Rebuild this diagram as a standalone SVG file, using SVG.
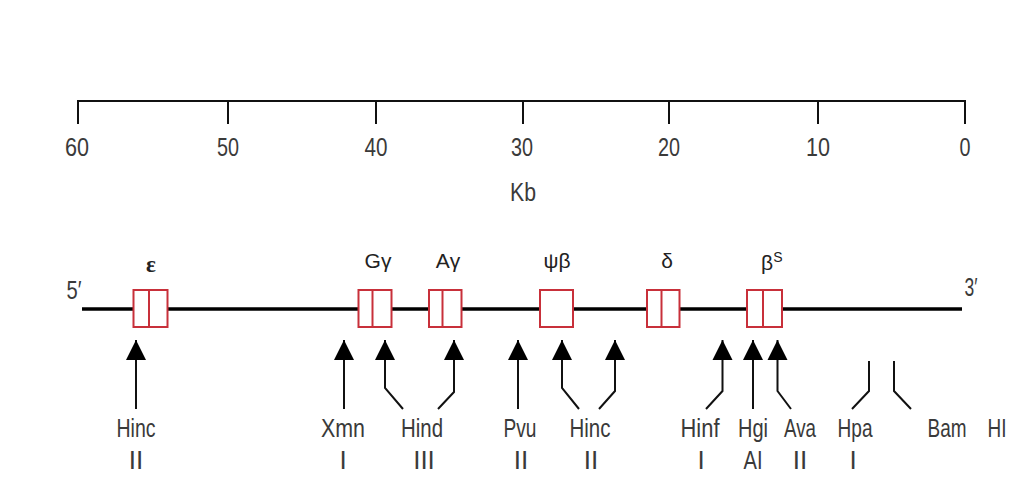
<svg xmlns="http://www.w3.org/2000/svg" width="1024" height="491" viewBox="0 0 1024 491">
<style>
.t{font-family:"Liberation Sans",Arial,sans-serif;font-size:26px;fill:#3a3a3a;text-anchor:middle}
.g{font-family:"Liberation Sans",Arial,sans-serif;font-size:21px;fill:#222;text-anchor:middle}
.ln{stroke:#111;stroke-width:2;fill:none}
.box{fill:#fff;stroke:#c8303a;stroke-width:2}
.div{stroke:#c8303a;stroke-width:2}
.c{stroke:#111;stroke-width:2;fill:none}
</style>
<defs>
<marker id="ah" markerUnits="userSpaceOnUse" markerWidth="22" markerHeight="22" viewBox="0 0 22 22" refX="11" refY="1" orient="0">
<path d="M11,1 L21,21 L1,21 Z" fill="#000"/>
</marker>
</defs>
<rect width="1024" height="491" fill="#fff"/>

<g id="scale">
<path class="ln" d="M78,101 H965 M78,100 V124 M228,100 V124 M376,100 V124 M523,100 V124 M669,100 V124 M818,100 V124 M965,100 V124"/>
<text class="t" x="77" y="156" textLength="24" lengthAdjust="spacingAndGlyphs">60</text>
<text class="t" x="228" y="156" textLength="22" lengthAdjust="spacingAndGlyphs">50</text>
<text class="t" x="376" y="156" textLength="23" lengthAdjust="spacingAndGlyphs">40</text>
<text class="t" x="522" y="156" textLength="22" lengthAdjust="spacingAndGlyphs">30</text>
<text class="t" x="669" y="156" textLength="22" lengthAdjust="spacingAndGlyphs">20</text>
<text class="t" x="818" y="156" textLength="24" lengthAdjust="spacingAndGlyphs">10</text>
<text class="t" x="965" y="156" textLength="11" lengthAdjust="spacingAndGlyphs">0</text>
<text class="t" x="523" y="201" textLength="26" lengthAdjust="spacingAndGlyphs">Kb</text>
</g>

<g id="chromosome">
<path d="M82,309 H962" stroke="#000" stroke-width="3.5"/>
<text class="t" x="74" y="299" textLength="15" lengthAdjust="spacingAndGlyphs">5′</text>
<text class="t" x="971" y="296" textLength="13" lengthAdjust="spacingAndGlyphs">3′</text>
</g>

<g id="epsilon">
<rect class="box" x="133.5" y="290" width="34" height="37"/>
<path class="div" d="M149,290 V327"/>
<text x="151" y="272" font-family="'Liberation Serif',serif" font-weight="bold" font-size="23" fill="#222" text-anchor="middle">ε</text>
</g>
<g id="Ggamma">
<rect class="box" x="358.5" y="290" width="33" height="37"/>
<path class="div" d="M372.5,290 V327"/>
<text class="g" x="378" y="268">Gγ</text>
</g>
<g id="Agamma">
<rect class="box" x="429" y="290" width="32.5" height="37"/>
<path class="div" d="M442.5,290 V327"/>
<text class="g" x="448" y="268">Aγ</text>
</g>
<g id="psibeta">
<rect class="box" x="540" y="290" width="33" height="37"/>
<text class="g" x="557" y="268">ψβ</text>
</g>
<g id="delta">
<rect class="box" x="647" y="290" width="32.5" height="37"/>
<path class="div" d="M661.5,290 V327"/>
<text class="g" x="667" y="268">δ</text>
</g>
<g id="betaS">
<rect class="box" x="747" y="290" width="35" height="37"/>
<path class="div" d="M763,290 V327"/>
<text class="g" x="767" y="270">β</text>
<text x="778" y="262" font-family="'Liberation Sans',Arial,sans-serif" font-size="14" fill="#222" text-anchor="middle">S</text>
</g>

<g id="connectors">
<path class="c" marker-start="url(#ah)" d="M136,340 V409"/>
<path class="c" marker-start="url(#ah)" d="M344,340 V409"/>
<path class="c" marker-start="url(#ah)" d="M385,340 V388 L403,409"/>
<path class="c" marker-start="url(#ah)" d="M454,340 V392 L438,409"/>
<path class="c" marker-start="url(#ah)" d="M518,340 V409"/>
<path class="c" marker-start="url(#ah)" d="M562,340 V388 L579,409"/>
<path class="c" marker-start="url(#ah)" d="M615,340 V391 L599,409"/>
<path class="c" marker-start="url(#ah)" d="M722.5,340 V391 L706,409"/>
<path class="c" marker-start="url(#ah)" d="M753,340 V409"/>
<path class="c" marker-start="url(#ah)" d="M777.5,340 V391 L791,409"/>
<path class="c" d="M869,361 V391 L852,409"/>
<path class="c" d="M894,361 V391 L911,409"/>
</g>

<g id="HincII_1">
<text class="t" x="136" y="437" textLength="39" lengthAdjust="spacingAndGlyphs">Hinc</text>
<text class="t" x="136" y="469">II</text>
</g>
<g id="XmnI">
<text class="t" x="343" y="437" textLength="44" lengthAdjust="spacingAndGlyphs">Xmn</text>
<text class="t" x="343" y="469">I</text>
</g>
<g id="HindIII">
<text class="t" x="422" y="437" textLength="42" lengthAdjust="spacingAndGlyphs">Hind</text>
<text class="t" x="424" y="469">III</text>
</g>
<g id="PvuII">
<text class="t" x="520" y="437" textLength="33" lengthAdjust="spacingAndGlyphs">Pvu</text>
<text class="t" x="521" y="469">II</text>
</g>
<g id="HincII_2">
<text class="t" x="590" y="437" textLength="41" lengthAdjust="spacingAndGlyphs">Hinc</text>
<text class="t" x="591" y="469">II</text>
</g>
<g id="HinfI">
<text class="t" x="700" y="437" textLength="39" lengthAdjust="spacingAndGlyphs">Hinf</text>
<text class="t" x="701" y="469">I</text>
</g>
<g id="HgiAI">
<text class="t" x="753" y="437" textLength="30" lengthAdjust="spacingAndGlyphs">Hgi</text>
<text class="t" x="753" y="469" textLength="19" lengthAdjust="spacingAndGlyphs">AI</text>
</g>
<g id="AvaII">
<text class="t" x="800" y="437" textLength="32" lengthAdjust="spacingAndGlyphs">Ava</text>
<text class="t" x="800" y="469">II</text>
</g>
<g id="HpaI">
<text class="t" x="855" y="437" textLength="35" lengthAdjust="spacingAndGlyphs">Hpa</text>
<text class="t" x="853" y="469">I</text>
</g>
<g id="BamHI">
<text class="t" x="947" y="437" textLength="39" lengthAdjust="spacingAndGlyphs">Bam</text>
<text class="t" x="997" y="437" textLength="19" lengthAdjust="spacingAndGlyphs">HI</text>
</g>
</svg>
